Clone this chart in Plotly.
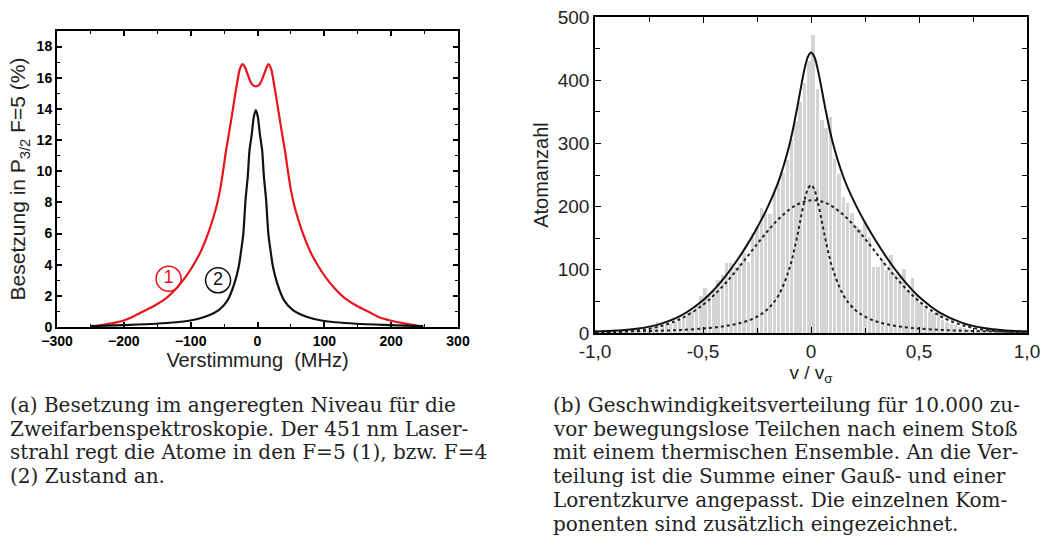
import plotly.graph_objects as go

W, H = 1043, 560

# ---------------- Panel (a): population vs detuning ----------------
red_x = [-250, -225, -200, -188, -175, -155, -138, -120, -107, -97, -86, -74, -67, -61, -56, -51.5,
         -47.5, -43, -39, -35.5, -32.5, -29.5, -26.5, -22.5, -18.5, -15, -11, -7, -2.5,
         2, 6, 10, 13.5, 16.5, 20.5, 23.5, 26.5, 29.5, 33, 37, 41.5, 45.5, 50, 55, 61, 68,
         80, 91, 101, 114, 132, 149, 169, 182, 200, 225, 248]
red_y = [0.0, 0.18, 0.42, 0.62, 0.92, 1.35, 1.8, 2.55, 3.25, 3.9, 4.75, 6.0, 6.9, 7.8, 8.8, 10.0,
         11.2, 12.35, 13.4, 14.35, 15.15, 15.9, 16.55, 16.88, 16.65, 16.25, 15.8, 15.52, 15.45,
         15.52, 15.8, 16.25, 16.65, 16.88, 16.55, 15.9, 15.15, 14.35, 13.4, 12.35, 11.2, 10.0, 8.8,
         7.8, 6.9, 6.0, 4.75, 3.9, 3.25, 2.55, 1.8, 1.35, 0.92, 0.62, 0.4, 0.18, 0.0]

blk_x = [-250, -202.5, -152.5, -102.5, -79.5, -57.5, -44.8, -34.5, -28.2, -24.5, -21.2, -18,
         -14.5, -12, -8.5, -5.5, -2.5, 0.5, 3.5, 7, 9.5, 13, 16.2, 19.5, 23.2, 29.5, 39.8,
         52.5, 74.5, 97.5, 147.5, 197.5, 248]
blk_y = [0.05, 0.12, 0.21, 0.40, 0.64, 1.1, 1.71, 2.8, 3.85, 4.9, 6.0, 8.1, 9.7, 11.33, 12.4,
         13.5, 13.93, 13.5, 12.4, 11.33, 9.7, 8.1, 6.0, 4.9, 3.85, 2.8, 1.71, 1.1, 0.64, 0.40,
         0.21, 0.12, 0.05]

label_x = [-133, -59]
label_y = [3.1, 3.0]
label_txt = ["1", "2"]

# ---------------- Panel (b): velocity histogram ----------------
bin_centers = [round(-0.99 + 0.02 * i, 2) for i in range(100)]
counts = [0, 0, 1, 1, 2, 2, 2, 3, 4, 4,
          5, 6, 7, 9, 18, 15, 12, 14, 18, 21,
          26, 31, 35, 44, 58, 71, 63, 68, 84, 92,
          110, 110, 105, 110, 126, 113, 158, 166, 198, 192,
          189, 221, 237, 253, 273, 307, 335, 365, 395, 430,
          472, 386, 337, 325, 342, 276, 252, 215, 205, 190,
          170, 165, 176, 152, 105, 105, 115, 100, 123, 94,
          92, 101, 68, 87, 61, 47, 42, 34, 31, 34,
          20, 18, 15, 12, 10, 8, 6, 5, 4, 3,
          3, 2, 2, 1, 1, 1, 0, 0, 0, 0]

fit_x = [-1.0, -0.9, -0.8, -0.7, -0.6, -0.5, -0.45, -0.4, -0.35, -0.3, -0.25, -0.2, -0.15,
         -0.1, -0.07, -0.05, -0.03, -0.015, 0.0, 0.015, 0.03, 0.05, 0.07, 0.1, 0.15, 0.2,
         0.25, 0.3, 0.35, 0.4, 0.45, 0.5, 0.6, 0.7, 0.8, 0.9, 1.0]
fit_sum = [2.3, 3.8, 7.0, 14.1, 27.9, 51.8, 68.3, 88.1, 111.1, 137.1, 166.3, 199.6, 240.2,
           297.5, 345.5, 382.4, 417.6, 436.6, 443.9, 437.4, 419.1, 384.9, 348.8, 302.2, 246.8,
           207.4, 174.9, 145.9, 119.5, 95.8, 75.0, 57.4, 31.4, 16.0, 7.9, 4.1, 2.4]
fit_gauss = [0.5, 1.5, 4.2, 10.5, 23.0, 44.7, 59.7, 77.3, 97.2, 118.6, 140.5, 161.6, 180.3,
             195.4, 202.2, 205.5, 208.0, 209.2, 209.9, 210.0, 209.5, 208.0, 205.5, 200.1, 186.9,
             169.4, 149.1, 127.4, 105.6, 85.0, 66.4, 50.4, 26.5, 12.4, 5.1, 1.9, 0.6]
fit_lorentz = [1.8, 2.2, 2.8, 3.6, 4.9, 7.0, 8.6, 10.8, 13.9, 18.5, 25.8, 38.0, 59.9,
               102.1, 143.3, 176.9, 209.6, 227.4, 234.0, 227.4, 209.6, 176.9, 143.3, 102.1, 59.9,
               38.0, 25.8, 18.5, 13.9, 10.8, 8.6, 7.0, 4.9, 3.6, 2.8, 2.2, 1.8]

x2_tickvals = [-1, -0.5, 0, 0.5, 1]
x2_ticktext = ["-1,0", "-0,5", "0", "0,5", "1,0"]

caption_a = ["(a) Besetzung im angeregten Niveau für die",
             "Zweifarbenspektroskopie. Der 451\u2009nm Laser-",
             "strahl regt die Atome in den F=5 (1), bzw. F=4",
             "(2) Zustand an."]
caption_b = ["(b) Geschwindigkeitsverteilung für 10.000 zu-",
             "vor bewegungslose Teilchen nach einem Stoß",
             "mit einem thermischen Ensemble. An die Ver-",
             "teilung ist die Summe einer Gauß- und einer",
             "Lorentzkurve angepasst. Die einzelnen Kom-",
             "ponenten sind zusätzlich eingezeichnet."]

fig = go.Figure()

fig.add_trace(go.Scatter(x=red_x, y=red_y, mode="lines", line=dict(color="#e8141c", width=2.2, shape="spline", smoothing=0.8),
                         xaxis="x", yaxis="y", showlegend=False))
fig.add_trace(go.Scatter(x=blk_x, y=blk_y, mode="lines", line=dict(color="#111111", width=2.2, shape="spline", smoothing=0.8),
                         xaxis="x", yaxis="y", showlegend=False))
fig.add_trace(go.Scatter(x=label_x, y=label_y, mode="markers+text", text=label_txt,
                         textposition="middle center",
                         textfont=dict(family="Liberation Sans", size=18, color=["#e8141c", "#111111"]),
                         marker=dict(symbol="circle-open", size=25, color=["#e8141c", "#111111"],
                                     line=dict(width=1.5)),
                         xaxis="x", yaxis="y", showlegend=False))

fig.add_trace(go.Bar(x=bin_centers, y=counts, width=0.016, marker=dict(color="#d4d4d4", line=dict(width=0)),
                     xaxis="x2", yaxis="y2", showlegend=False))
fig.add_trace(go.Scatter(x=fit_x, y=fit_gauss, mode="lines", line=dict(color="#222222", width=2, dash="dot", shape="spline"),
                         xaxis="x2", yaxis="y2", showlegend=False))
fig.add_trace(go.Scatter(x=fit_x, y=fit_lorentz, mode="lines", line=dict(color="#222222", width=2, dash="dot", shape="spline"),
                         xaxis="x2", yaxis="y2", showlegend=False))
fig.add_trace(go.Scatter(x=fit_x, y=fit_sum, mode="lines", line=dict(color="#111111", width=2, shape="spline"),
                         xaxis="x2", yaxis="y2", showlegend=False))

sans = "Liberation Sans, Arial, sans-serif"

fig.update_layout(
    width=W, height=H, margin=dict(l=0, r=0, t=0, b=0, autoexpand=False),
    paper_bgcolor="white", plot_bgcolor="white",
    bargap=0,
    xaxis=dict(domain=[57 / W, 458 / W], range=[-300, 300], tickmode="array",
               tickvals=[-300, -200, -100, 0, 100, 200, 300],
               ticks="inside", ticklen=5, tickwidth=1.5, tickcolor="black",
               minor=dict(dtick=50, tick0=0, ticks="inside", ticklen=3, tickwidth=1.2, tickcolor="black"),
               showline=True, linewidth=2, linecolor="black", mirror="ticks",
               showgrid=False, zeroline=False, automargin=False,
               tickfont=dict(family=sans, size=14, color="black", weight="bold"),
               title=dict(text="Verstimmung  (MHz)", font=dict(family=sans, size=20, color="#222"), standoff=0),
               anchor="y"),
    yaxis=dict(domain=[1 - 327 / H, 1 - 31 / H], range=[0, 19], tickmode="array",
               tickvals=[0, 2, 4, 6, 8, 10, 12, 14, 16, 18],
               ticks="inside", ticklen=5, tickwidth=1.5, tickcolor="black",
               minor=dict(dtick=1, tick0=0, ticks="inside", ticklen=3, tickwidth=1.2, tickcolor="black"),
               showline=True, linewidth=2, linecolor="black", mirror="ticks",
               showgrid=False, zeroline=False, automargin=False,
               tickfont=dict(family=sans, size=14, color="black", weight="bold"),
               title=dict(text="Besetzung in P<sub>3/2</sub> F=5 (%)", font=dict(family=sans, size=21, color="#222"), standoff=5),
               anchor="x"),
    xaxis2=dict(domain=[595 / W, 1027 / W], range=[-1, 1], tickmode="array",
                tickvals=x2_tickvals, ticktext=x2_ticktext,
                ticks="inside", ticklen=6, tickwidth=1.2, tickcolor="black",
                minor=dict(dtick=0.25, tick0=-1, ticks="inside", ticklen=5, tickwidth=1.2, tickcolor="black"),
                showline=True, linewidth=1.5, linecolor="black", mirror="ticks",
                showgrid=False, zeroline=False, automargin=False,
                tickfont=dict(family=sans, size=19, color="#222"),
                title=dict(text="v / v<sub>σ</sub>", font=dict(family=sans, size=19, color="#222"), standoff=0),
                anchor="y2"),
    yaxis2=dict(domain=[1 - 333 / H, 1 - 17 / H], range=[0, 500], tickmode="array",
                tickvals=[0, 100, 200, 300, 400, 500],
                ticks="inside", ticklen=6, tickwidth=1.2, tickcolor="black",
                minor=dict(dtick=50, tick0=0, ticks="inside", ticklen=5, tickwidth=1.2, tickcolor="black"),
                showline=True, linewidth=1.5, linecolor="black", mirror="ticks",
                showgrid=False, zeroline=False, automargin=False,
                tickfont=dict(family=sans, size=19, color="#222"),
                title=dict(text="Atomanzahl", font=dict(family=sans, size=20, color="#222"), standoff=4),
                anchor="x2"),
)

serif = "DejaVu Serif, serif"
line_h = 23.7
for i, t in enumerate(caption_a):
    fig.add_annotation(x=8 / W, y=1 - (405 + i * line_h) / H, xref="paper", yref="paper",
                       text=t, showarrow=False, xanchor="left", yanchor="middle",
                       font=dict(family=serif, size=20, color="#222"))
for i, t in enumerate(caption_b):
    fig.add_annotation(x=551 / W, y=1 - (405 + i * line_h) / H, xref="paper", yref="paper",
                       text=t, showarrow=False, xanchor="left", yanchor="middle",
                       font=dict(family=serif, size=20, color="#222"))

fig.write_html("out.html")
